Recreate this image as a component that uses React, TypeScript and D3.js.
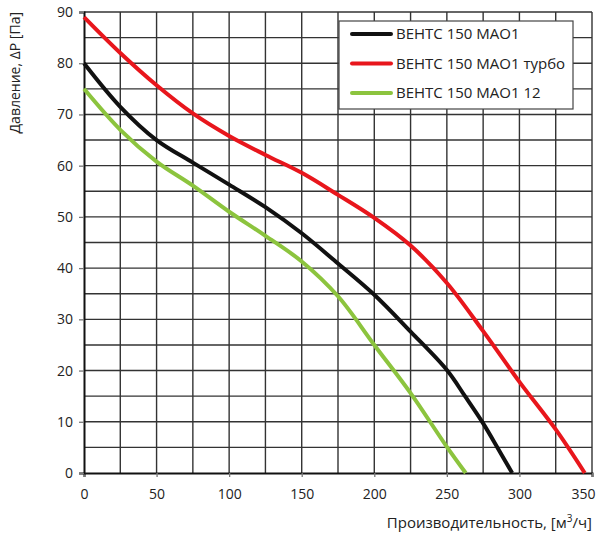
import { useEffect, useRef } from 'react';
import * as d3 from 'd3';

const WIDTH = 600;
const HEIGHT = 546;

// flow, m3/h -> pressure, Pa
const blackFlow = [0, 25, 50, 75, 100, 125, 150, 175, 200, 225, 250, 262.5, 275, 285, 295];
const blackPressure = [80, 71.5, 65, 60.6, 56.3, 51.9, 46.8, 40.9, 34.8, 27.6, 20.1, 15, 9.7, 4.9, 0];

const redFlow = [0, 25, 50, 75, 100, 125, 150, 175, 200, 225, 250, 275, 300, 325, 345];
const redPressure = [89, 82, 75.7, 70.2, 65.8, 62.1, 58.6, 54.3, 49.8, 44.4, 37.1, 27.7, 17.8, 8.5, 0];

const greenFlow = [0, 25, 50, 75, 100, 125, 150, 175, 200, 225, 250, 263];
const greenPressure = [75, 67, 60.8, 56.1, 51, 46.3, 41.3, 34.5, 25, 15.6, 5.1, 0];

const seriesNames = ['ВЕНТС 150 МАО1', 'ВЕНТС 150 МАО1 турбо', 'ВЕНТС 150 МАО1 12'];
const seriesColors = ['#111111', '#e8161c', '#8cc43e'];

const xTicks = [0, 50, 100, 150, 200, 250, 300, 350];
const yTicks = [0, 10, 20, 30, 40, 50, 60, 70, 80, 90];

const FONT = '"Open Sans", "DejaVu Sans", sans-serif';

export default function App() {
  const svgRef = useRef<SVGSVGElement>(null);

  useEffect(() => {
    if (!svgRef.current) return;
    const svg = d3.select(svgRef.current);
    svg.selectAll('*').remove();

    const margin = { top: 12, right: 8, bottom: 73, left: 84 };
    const w = WIDTH - margin.left - margin.right;
    const h = HEIGHT - margin.top - margin.bottom;

    const x = d3.scaleLinear().domain([0, 350]).range([0, w]);
    const y = d3.scaleLinear().domain([0, 90]).range([h, 0]);

    const g = svg.append('g').attr('transform', `translate(${margin.left},${margin.top})`);

    // grid: every 25 on x, every 5 on y
    g.selectAll('.vgrid')
      .data(d3.range(25, 351, 25))
      .join('line')
      .attr('x1', (d: number) => x(d))
      .attr('x2', (d: number) => x(d))
      .attr('y1', 0)
      .attr('y2', h)
      .attr('stroke', '#333')
      .attr('stroke-width', 1.4);

    g.selectAll('.hgrid')
      .data(d3.range(5, 91, 5))
      .join('line')
      .attr('x1', 0)
      .attr('x2', w)
      .attr('y1', (d: number) => y(d))
      .attr('y2', (d: number) => y(d))
      .attr('stroke', '#333')
      .attr('stroke-width', 1.4);

    // axes
    const xAxis = g.append('g').attr('transform', `translate(0,${h})`);
    xAxis.call(d3.axisBottom(x).tickValues(xTicks).tickSize(4).tickPadding(12));
    xAxis.select('.domain').attr('stroke', '#111').attr('stroke-width', 2);
    xAxis.selectAll('.tick line').attr('stroke', '#777').attr('stroke-width', 1.3);
    xAxis.selectAll('text')
      .style('fill', '#222')
      .style('font-size', '14px')
      .style('font-family', FONT);
    // last label sits inside the page edge
    xAxis.selectAll<SVGTextElement, number>('text')
      .filter((d: number) => d === 350)
      .attr('text-anchor', 'end')
      .attr('dx', 3);

    const yAxis = g.append('g');
    yAxis.call(d3.axisLeft(y).tickValues(yTicks).tickSize(5).tickPadding(6));
    yAxis.select('.domain').attr('stroke', '#111').attr('stroke-width', 2);
    yAxis.selectAll('.tick line').attr('stroke', '#777').attr('stroke-width', 1.3);
    yAxis.selectAll('text')
      .style('fill', '#222')
      .style('font-size', '14px')
      .style('font-family', FONT);

    // curves
    const flows = [blackFlow, redFlow, greenFlow];
    const pressures = [blackPressure, redPressure, greenPressure];
    const line = d3.line<[number, number]>()
      .x((d: [number, number]) => x(d[0]))
      .y((d: [number, number]) => y(d[1]))
      .curve(d3.curveCatmullRom.alpha(0.5));

    flows.forEach((fl: number[], i: number) => {
      const pts = fl.map((f: number, j: number) => [f, pressures[i][j]] as [number, number]);
      g.append('path')
        .datum(pts)
        .attr('d', line)
        .attr('fill', 'none')
        .attr('stroke', seriesColors[i])
        .attr('stroke-width', 4)
        .attr('stroke-linejoin', 'round');
    });

    // legend
    const lg = svg.append('g').attr('transform', 'translate(339,21)');
    lg.append('rect')
      .attr('width', 234)
      .attr('height', 88)
      .attr('fill', '#fff')
      .attr('stroke', '#444')
      .attr('stroke-width', 1.2);
    seriesNames.forEach((name: string, i: number) => {
      const cy = 13 + i * 29.5;
      lg.append('line')
        .attr('x1', 13)
        .attr('x2', 52)
        .attr('y1', cy)
        .attr('y2', cy)
        .attr('stroke', seriesColors[i])
        .attr('stroke-width', 4)
        .attr('stroke-linecap', 'round');
      lg.append('text')
        .attr('x', 57)
        .attr('y', cy)
        .attr('dy', '0.36em')
        .style('font-size', '15px')
        .style('font-family', FONT)
        .style('fill', '#222')
        .text(name);
    });

    // axis titles
    const xt = svg.append('text')
      .attr('x', 592)
      .attr('y', 528)
      .attr('text-anchor', 'end')
      .style('font-size', '15px')
      .style('font-family', FONT)
      .style('fill', '#222');
    xt.append('tspan').text('Производительность, [м');
    xt.append('tspan').attr('dy', -6).style('font-size', '10px').text('3');
    xt.append('tspan').attr('dy', 6).text('/ч]');

    svg.append('text')
      .attr('transform', 'translate(20,12) rotate(-90)')
      .attr('text-anchor', 'end')
      .style('font-size', '14px')
      .style('font-family', FONT)
      .style('fill', '#222')
      .text('Давление, ΔP [Па]');
  }, []);

  return (
    <svg
      ref={svgRef}
      width={WIDTH}
      height={HEIGHT}
      style={{ position: 'absolute', left: 0, top: 0, background: '#fff' }}
    />
  );
}
